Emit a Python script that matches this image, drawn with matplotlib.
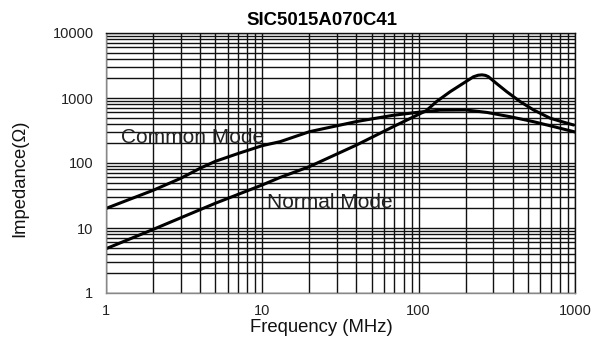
import matplotlib
matplotlib.use("Agg")
import matplotlib.pyplot as plt
from matplotlib.ticker import LogLocator, FixedLocator, FixedFormatter, NullFormatter

plt.rcParams['font.family'] = ['Liberation Sans', 'DejaVu Sans']

title = "SIC5015A070C41"
x_label = "Frequency (MHz)"
y_label = "Impedance(Ω)"

# Common mode impedance
cm_freq = [1, 2, 3, 4, 5, 7, 10, 13, 20, 40, 68, 100, 137, 200, 273, 385, 543, 733, 889, 1000]
cm_imp = [20, 38, 58, 83, 106, 140, 185, 213, 303, 434, 540, 605, 650, 655, 600, 515, 432, 362, 322, 300]

# Normal mode impedance
nm_freq = [1, 2, 5, 10, 13, 20, 40, 70, 100, 112, 130, 159, 200, 224, 240, 254, 267, 279, 314, 366, 446, 543, 695, 845, 980]
nm_imp = [4.8, 9.5, 24, 46, 60, 88, 189, 370, 560, 640, 880, 1250, 1780, 2120, 2240, 2270, 2230, 2130, 1680, 1250, 880, 655, 488, 425, 384]

x_ticks = [1, 10, 100, 1000]
x_tick_labels = ["1", "10", "100", "1000"]
y_ticks = [1, 10, 100, 1000, 10000]
y_tick_labels = ["1", "10", "100", "1000", "10000"]

fig = plt.figure(figsize=(5.92, 3.39), dpi=100)
ax = fig.add_axes([106/592, 46/339, 469/592, 260/339])

ax.set_xscale('log')
ax.set_yscale('log')
ax.set_xlim(1, 1000)
ax.set_ylim(1, 10000)

ax.xaxis.set_major_locator(FixedLocator(x_ticks))
ax.xaxis.set_major_formatter(FixedFormatter(x_tick_labels))
ax.yaxis.set_major_locator(FixedLocator(y_ticks))
ax.yaxis.set_major_formatter(FixedFormatter(y_tick_labels))
ax.xaxis.set_minor_locator(LogLocator(base=10, subs=range(2, 10)))
ax.yaxis.set_minor_locator(LogLocator(base=10, subs=range(2, 10)))
ax.xaxis.set_minor_formatter(NullFormatter())
ax.yaxis.set_minor_formatter(NullFormatter())

ax.grid(True, which='both', color='#111111', linewidth=1.0)
ax.set_axisbelow(True)
ax.tick_params(which='both', length=0, labelsize=10.5, colors='#222222')
ax.tick_params(axis='y', pad=9)
ax.tick_params(axis='x', pad=8)
for side in ['left', 'bottom']:
    ax.spines[side].set_color('#888888')
    ax.spines[side].set_linewidth(1.0)
for side in ['top', 'right']:
    ax.spines[side].set_color('#111111')
    ax.spines[side].set_linewidth(1.0)

ax.plot(cm_freq, cm_imp, color='black', linewidth=2.2, solid_capstyle='round', solid_joinstyle='round')
ax.plot(nm_freq, nm_imp, color='black', linewidth=2.2, solid_capstyle='round', solid_joinstyle='round')

ax.text(1.24, 205, "Common Mode", fontsize=15, color='#222222', ha='left', va='baseline')
ax.text(10.67, 20.1, "Normal Mode", fontsize=15, color='#222222', ha='left', va='baseline')

fig.text(321.7/592, 1 - 25/339, title, fontsize=13.4, fontweight='bold', ha='center', va='baseline')
fig.text(321.5/592, (339 - 331.7)/339, x_label, fontsize=13.3, ha='center', va='baseline', color='#111111')
fig.text(19.5/592, 1 - 178.5/339, y_label, fontsize=13.3, rotation=90, ha='center', va='center', color='#111111')

fig.savefig("out.png", dpi=100)
